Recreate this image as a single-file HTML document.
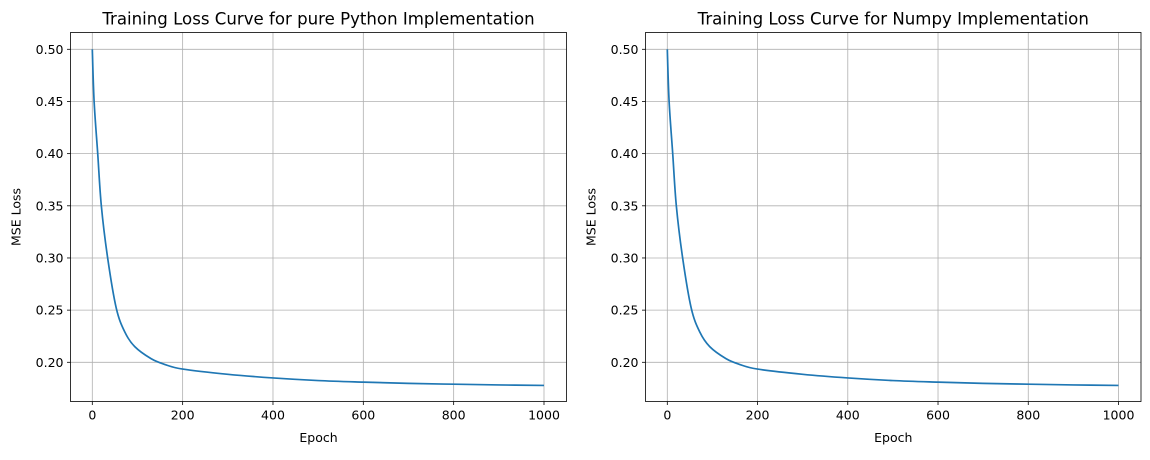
<!DOCTYPE html>
<html><head><meta charset="utf-8"><style>
html,body{margin:0;padding:0;background:#fff;}
svg text{font-family:"DejaVu Sans","Liberation Sans",sans-serif;fill:#000;}
</style></head><body>
<svg id="fig" width="1150" height="455" xmlns="http://www.w3.org/2000/svg"></svg>
<script>
const epochs = [0,4,12,20,34,53,72,94,130,160,200,300,400,500,600,700,800,900,1000];
const lossPython = [0.5,0.45,0.40,0.35,0.30,0.252,0.229,0.215,0.2035,0.198,0.1935,0.1885,0.185,0.1825,0.181,0.1798,0.179,0.1783,0.1778];
const lossNumpy = [0.5,0.45,0.40,0.35,0.30,0.252,0.229,0.215,0.2035,0.198,0.1935,0.1885,0.185,0.1825,0.181,0.1798,0.179,0.1783,0.1778];
const xTicks = [0,200,400,600,800,1000];
const yTicks = [0.20,0.25,0.30,0.35,0.40,0.45,0.50];
const titles = ["Training Loss Curve for pure Python Implementation","Training Loss Curve for Numpy Implementation"];

const NS="http://www.w3.org/2000/svg";
const svg=document.getElementById('fig');
function mk(tag,attrs,parent){const e=document.createElementNS(NS,tag);for(const k in attrs)e.setAttribute(k,attrs[k]);(parent||svg).appendChild(e);return e;}

function panel(left,right,series,title,idx){
  const top=32.5,bottom=401.5;
  const x0=left+21.8, x1=right-22.5;
  const xs=v=>x0+(v/1000)*(x1-x0);
  const ys=v=>49.3+(0.5-v)/0.3*(362.3-49.3);
  const g=mk('g',{});
  
  
  xTicks.forEach(t=>{
    const l=mk('line',{x1:xs(t),x2:xs(t),y1:top,y2:bottom,stroke:'#b0b0b0','stroke-width':0.8},g);
    
    
    mk('line',{x1:xs(t),x2:xs(t),y1:bottom,y2:bottom+3.5,stroke:'#000','stroke-width':0.8},g);
    const tx=mk('text',{x:xs(t),y:bottom+18,'font-size':12.5,'text-anchor':'middle'},g);
    tx.textContent=t;
    
    
  });
  yTicks.forEach(t=>{
    const l=mk('line',{x1:left,x2:right,y1:ys(t),y2:ys(t),stroke:'#b0b0b0','stroke-width':0.8},g);
    
    
    mk('line',{x1:left-3.5,x2:left,y1:ys(t),y2:ys(t),stroke:'#000','stroke-width':0.8},g);
    const tx=mk('text',{x:left-7,y:ys(t)+4.5,'font-size':12.5,'text-anchor':'end'},g);
    tx.textContent=t.toFixed(2);
    
    
  });
  const pts=epochs.map((e,i)=>[xs(e),ys(series[i])]);
  let d='M'+pts[0][0]+','+pts[0][1];
  for(let i=0;i<pts.length-1;i++){
    const p0=pts[Math.max(0,i-1)],p1=pts[i],p2=pts[i+1],p3=pts[Math.min(pts.length-1,i+2)];
    const c1=[p1[0]+(p2[0]-p0[0])/6,p1[1]+(p2[1]-p0[1])/6];
    const c2=[p2[0]-(p3[0]-p1[0])/6,p2[1]-(p3[1]-p1[1])/6];
    d+=' C'+c1[0]+','+c1[1]+' '+c2[0]+','+c2[1]+' '+p2[0]+','+p2[1];
  }
  const line=mk('path',{d:d,fill:'none',stroke:'#1f77b4','stroke-width':1.7},g);
  
  
  const frame=mk('rect',{x:left,y:top,width:right-left,height:bottom-top,fill:'none',stroke:'#000','stroke-width':0.8},g);
  
  
  const tt=mk('text',{x:(left+right)/2,y:24.5,'font-size':16.6,'text-anchor':'middle'},g);
  tt.textContent=title;
  
  
  const xl=mk('text',{x:(left+right)/2,y:442,'font-size':12.5,'text-anchor':'middle'},g);
  xl.textContent='Epoch';
  
  
  const yx=left-50, yy=(top+bottom)/2;
  const yl=mk('text',{x:yx,y:yy,'font-size':12.5,'text-anchor':'middle',transform:'rotate(-90 '+yx+' '+yy+')'},g);
  yl.textContent='MSE Loss';
  
  
}
panel(70.5,566.5,lossPython,titles[0],0);
panel(645.5,1141,lossNumpy,titles[1],1);
</script>
</body></html>
